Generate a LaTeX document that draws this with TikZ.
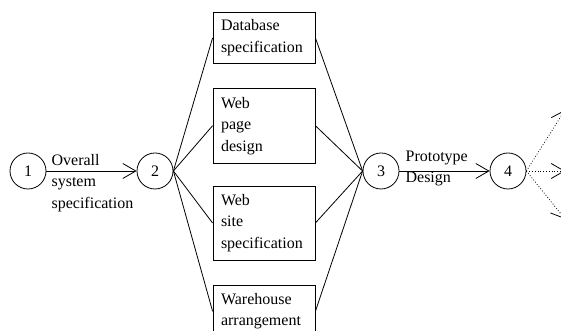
\documentclass[tikz,border=0pt]{standalone}
\usepackage{fontspec}
\setmainfont{Liberation Serif}
\usetikzlibrary{arrows.meta,positioning}

\begin{document}
\begin{tikzpicture}[
    x=1pt, y=1pt,
    font=\fontsize{16}{21.5}\selectfont,
    event/.style={draw, circle, minimum size=36pt, inner sep=0pt, line width=0.8pt},
    task/.style={draw, rectangle, text width=86pt, inner xsep=8pt, inner ysep=4pt, align=left, line width=0.8pt, anchor=north},
    note/.style={align=left, inner sep=0pt, anchor=west},
    link/.style={line width=0.8pt},
    arrow/.style={link, -{Straight Barb[length=13pt,width=15pt]}},
    maybe/.style={arrow, dotted}
]
\useasboundingbox (0,0) rectangle (561,331);

% events on the main line
\node[event] (e1) at (28,160) {1};
\node[event] (e2) at (155,160) {2};
\node[event] (e3) at (381,160) {3};
\node[event] (e4) at (508,160) {4};

% parallel tasks between events 2 and 3
\node[task, minimum height=51pt] (db) at (264,319) {Database\\specification};
\node[task, minimum height=75pt, below=24pt of db] (wp) {Web\\page\\design};
\node[task, minimum height=74pt, below=22pt of wp] (ws) {Web\\site\\specification};
\node[task, minimum height=51pt, below=25pt of ws] (wh) {Warehouse\\arrangement};

\foreach \t in {db,wp,ws,wh} {
  \draw[link] (e2.east) -- (\t.west);
  \draw[link] (\t.east) -- (e3.west);
}

% main arrows and their labels
\draw[arrow] (e1) -- (e2);
\node[note] (l12) at ([xshift=5pt,yshift=-12pt]e1.east) {Overall\\system\\specification};

\draw[arrow] (e3) -- (e4);
\node[note] (l34) at ([xshift=6pt,yshift=2.5pt]e3.east) {Prototype\\Design};

% dotted branches leaving event 4
\coordinate (n1) at (565,221);
\coordinate (n2) at (565,160);
\coordinate (n3) at (565,112);
\foreach \n in {n1,n2,n3}
  \draw[maybe] (e4.east) -- (\n);

\end{tikzpicture}
\end{document}
